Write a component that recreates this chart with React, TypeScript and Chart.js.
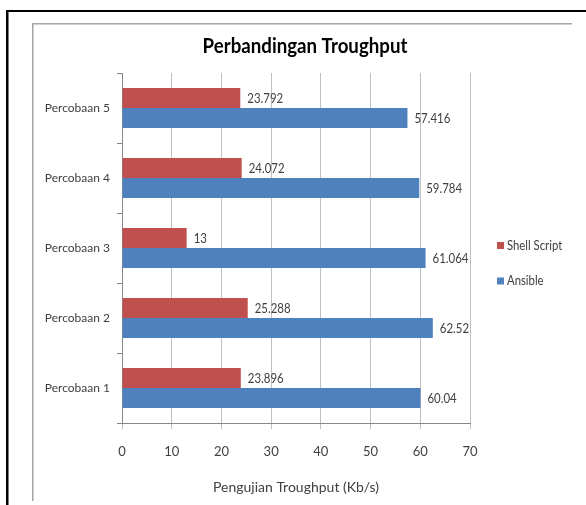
import React, { useEffect, useRef } from "react";
import { Chart, registerables } from "chart.js";

Chart.register(...registerables);

const chartTitle = "Perbandingan Troughput";
const axisTitle = "Pengujian Troughput (Kb/s)";
const categories = ["Percobaan 1", "Percobaan 2", "Percobaan 3", "Percobaan 4", "Percobaan 5"];
const shellScript = [23.896, 25.288, 13, 24.072, 23.792];
const ansible = [60.04, 62.52, 61.064, 59.784, 57.416];
const seriesNames = ["Shell Script", "Ansible"];
const seriesColors = ["#C0504D", "#4F81BD"];
const xTicks = [0, 10, 20, 30, 40, 50, 60, 70];

const FONT = "Lato, 'Open Sans', sans-serif";
const W = 586;
const H = 505;

function narrowText(ctx: any, text: string, x: number, y: number, sx: number) {
  ctx.save();
  ctx.translate(x, y);
  ctx.scale(sx, 1);
  ctx.fillText(text, 0, 0);
  ctx.restore();
}

const decorPlugin = {
  id: "decor",
  beforeDraw(chart: any) {
    const ctx = chart.ctx;
    ctx.save();
    ctx.fillStyle = "#ffffff";
    ctx.fillRect(0, 0, W, H);
    // outer black frame
    ctx.fillStyle = "#000000";
    ctx.fillRect(6, 10, W - 6, 2);
    ctx.fillRect(6, 10, 2.5, H - 10);
    // inner gray frame
    ctx.fillStyle = "#a6a6a6";
    ctx.fillRect(32, 23, 572 - 32, 1.5);
    ctx.fillRect(32, 23, 1.5, 501 - 23);
    ctx.restore();
  },
  afterDraw(chart: any) {
    const ctx = chart.ctx;
    ctx.save();
    // title
    ctx.fillStyle = "#000000";
    ctx.font = `bold 21px ${FONT}`;
    ctx.textAlign = "center";
    ctx.textBaseline = "middle";
    narrowText(ctx, chartTitle, 305, 46, 0.89);
    // legend
    ctx.font = `13px ${FONT}`;
    ctx.textAlign = "left";
    const ys = [245.5, 281];
    chart.data.datasets.forEach((ds: any, i: number) => {
      ctx.fillStyle = ds.backgroundColor;
      ctx.fillRect(497, ys[i] - 3.5, 7, 7);
      ctx.fillStyle = "#404040";
      narrowText(ctx, ds.label, 507, ys[i], 0.87);
    });
    ctx.restore();
  },
  afterDatasetsDraw(chart: any) {
    const ctx = chart.ctx;
    ctx.save();
    ctx.font = `13px ${FONT}`;
    ctx.fillStyle = "#404040";
    ctx.textAlign = "left";
    ctx.textBaseline = "middle";
    chart.data.datasets.forEach((ds: any, i: number) => {
      const meta = chart.getDatasetMeta(i);
      meta.data.forEach((bar: any, j: number) => {
        narrowText(ctx, String(ds.data[j]), bar.x + 7, bar.y + 1, 0.88);
      });
    });
    ctx.restore();
  },
};

export default function App() {
  const ref = useRef<HTMLCanvasElement | null>(null);
  useEffect(() => {
    if (!ref.current) return;
    const chart = new Chart(ref.current, {
      type: "bar",
      data: {
        labels: categories,
        datasets: [
          { label: seriesNames[0], data: shellScript, backgroundColor: seriesColors[0], borderWidth: 0 },
          { label: seriesNames[1], data: ansible, backgroundColor: seriesColors[1], borderWidth: 0 },
        ],
      },
      options: {
        indexAxis: "y",
        responsive: false,
        animation: false,
        devicePixelRatio: 1,
        layout: { padding: { left: 0, top: 73, right: 116, bottom: 0 } },
        datasets: { bar: { categoryPercentage: 40 / 70, barPercentage: 1 } },
        plugins: {
          legend: { display: false },
          title: { display: false },
          tooltip: { enabled: false },
        },
        scales: {
          x: {
            type: "linear",
            min: 0,
            max: 70,
            afterBuildTicks: (scale: any) => {
              scale.ticks = xTicks.map((v) => ({ value: v }));
            },
            afterFit: (scale: any) => {
              scale.height = H - 423;
            },
            grid: { color: "#c0c0c0", tickLength: 6, drawTicks: true, lineWidth: 1 },
            border: { color: "#868686", width: 1 },
            ticks: {
              font: { family: FONT, size: 13 },
              color: "#404040",
              padding: 15,
            },
            title: {
              display: true,
              text: axisTitle,
              font: { family: FONT, size: 14 },
              color: "#404040",
              padding: { top: 0, bottom: 9 },
            },
          },
          y: {
            type: "category",
            reverse: true,
            afterFit: (scale: any) => {
              scale.width = 122;
            },
            grid: { offset: true, drawOnChartArea: false, tickLength: 5, color: "#868686" },
            border: { color: "#868686", width: 1 },
            ticks: {
              font: { family: FONT, size: 12 },
              color: "#404040",
              padding: 7,
            },
          },
        },
      },
      plugins: [decorPlugin],
    });
    return () => chart.destroy();
  }, []);
  return (
    <div style={{ position: "absolute", left: 0, top: 0, width: W, height: H }}>
      <canvas ref={ref} width={W} height={H} style={{ width: W, height: H, display: "block" }} />
    </div>
  );
}
